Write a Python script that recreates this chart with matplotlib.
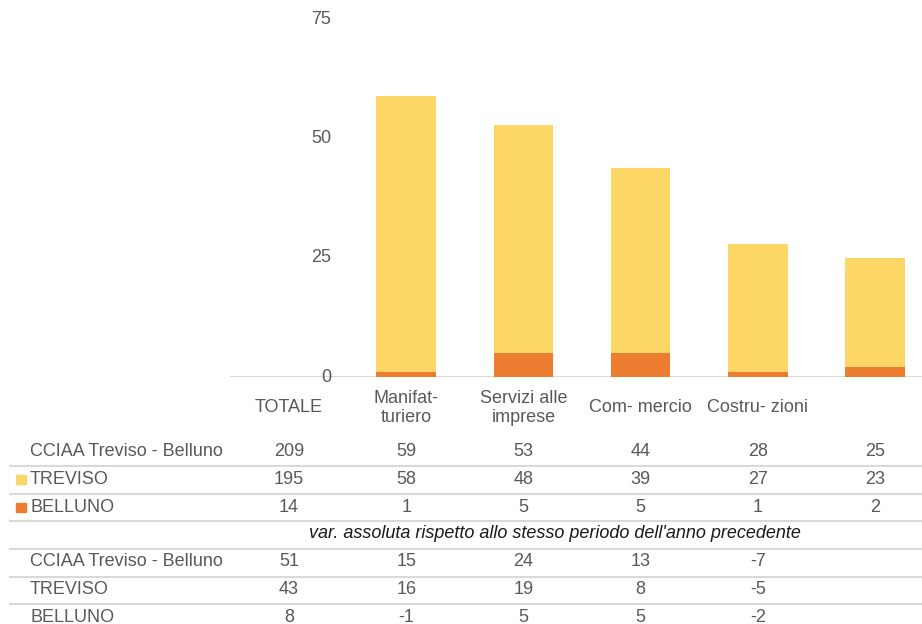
import numpy as np
import matplotlib
matplotlib.use("Agg")
from matplotlib import pyplot as plt
from matplotlib.patches import Rectangle
from matplotlib.lines import Line2D

plt.rcParams['font.family'] = ['Liberation Sans', 'DejaVu Sans']

###############################
### data
categories = ["TOTALE", "Manifat-\nturiero", "Servizi alle\nimprese", "Com- mercio", "Costru- zioni", ""]
treviso = [195, 58, 48, 39, 27, 23]
belluno = [14, 1, 5, 5, 1, 2]
totale = [209, 59, 53, 44, 28, 25]
var_totale = ["51", "15", "24", "13", "-7", ""]
var_treviso = ["43", "16", "19", "8", "-5", ""]
var_belluno = ["8", "-1", "5", "5", "-2", ""]
y_ticks = [0, 25, 50, 75]
note = "var. assoluta rispetto allo stesso periodo dell'anno precedente"

YELLOW = "#FDD766"
ORANGE = "#ED7D31"
TEXT = "#595959"
LINE = "#D9D9D9"

W, H = 922, 624
fig = plt.figure(figsize=(W / 100, H / 100), dpi=100)

def fx(px):
    return px / W
def fy(py):
    return 1 - py / H

# axes: 0 -> y=377, 75 -> y=20 ; x from 230 to 922
ax = fig.add_axes([fx(230), fy(377), fx(922) - fx(230), (377 - 20) / H])
x0, dx = 289, 117.2
ax.set_xlim((230 - x0) / dx, (922 - x0) / dx)
ax.set_ylim(0, 75)
ax.axis("off")
ax.axhline(0, color=LINE, lw=1.5, zorder=1)

fs = 13

pos = np.arange(len(categories))
# TOTALE bar is not drawn in the chart (off scale)
ax.bar(pos[1:], belluno[1:], width=0.51, color=ORANGE, zorder=2)
ax.bar(pos[1:], treviso[1:], bottom=belluno[1:], width=0.51, color=YELLOW, zorder=2)

for t in y_ticks:
    ax.text((331 - x0) / dx, t, str(t), ha="right", va="center", fontsize=fs, color=TEXT)

col_x = [x0 + dx * i for i in range(len(categories))]

# category labels
for cx, lab in zip(col_x, categories):
    fig.text(fx(cx), fy(408), lab, ha="center", va="center", fontsize=fs, color=TEXT,
             linespacing=1.1)

rows_y = [451, 479, 507]
labels_top = ["CCIAA Treviso - Belluno", "TREVISO", "BELLUNO"]
vals_top = [totale, treviso, belluno]
markers = [None, YELLOW, ORANGE]
for ry, lab, vals, mk in zip(rows_y, labels_top, vals_top, markers):
    fig.text(fx(30), fy(ry), lab, ha="left", va="center", fontsize=fs, color=TEXT)
    if mk is not None:
        fig.patches.append(Rectangle((fx(16), fy(ry + 5)), 10 / W, 9 / H, color=mk,
                                     transform=fig.transFigure, figure=fig))
    for cx, v in zip(col_x, vals):
        fig.text(fx(cx), fy(ry), str(v), ha="center", va="center", fontsize=fs, color=TEXT)

fig.text(fx(555), fy(533), note, ha="center", va="center", fontsize=fs, color="#1a1a1a",
         style="italic")

rows_y2 = [561, 590, 617]
labels_bot = ["CCIAA Treviso - Belluno", "TREVISO", "BELLUNO"]
vals_bot = [var_totale, var_treviso, var_belluno]
for ry, lab, vals in zip(rows_y2, labels_bot, vals_bot):
    fig.text(fx(30), fy(ry), lab, ha="left", va="center", fontsize=fs, color=TEXT)
    for cx, v in zip(col_x, vals):
        fig.text(fx(cx), fy(ry), v, ha="center", va="center", fontsize=fs, color=TEXT)

for ly in [466, 494, 521, 549, 577, 604]:
    fig.lines.append(Line2D([fx(10), 1], [fy(ly), fy(ly)], color=LINE, lw=1.5,
                            transform=fig.transFigure, figure=fig))

fig.savefig("out.png", dpi=100)
